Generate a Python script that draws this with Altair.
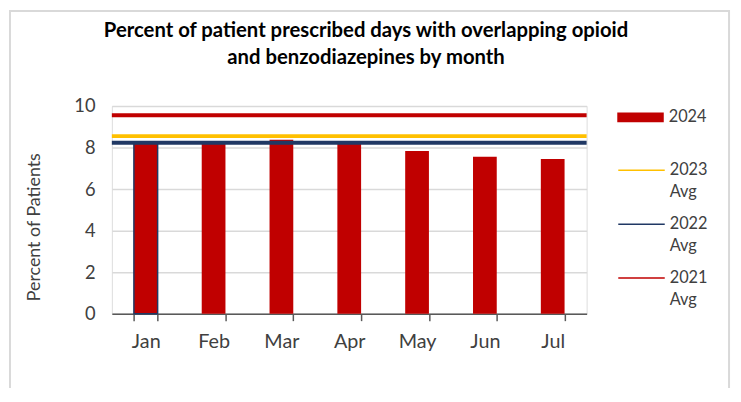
import altair as alt
import pandas as pd

# ---- data ----
months = ["Jan", "Feb", "Mar", "Apr", "May", "Jun", "Jul"]
values_2024 = [8.22, 8.2, 8.38, 8.2, 7.83, 7.56, 7.45]
bar_label = "2024"
bar_color = "#c00000"
avg_labels = ["2023 Avg", "2022 Avg", "2021 Avg"]
avg_values = [8.55, 8.23, 9.56]
avg_colors = ["#ffc000", "#203864", "#c00000"]
y_ticks = [0, 2, 4, 6, 8, 10]
title_lines = ["Percent of patient prescribed days with overlapping opioid",
               "and  benzodiazepines by month"]

bars_df = pd.DataFrame({"month": months, "pct": values_2024, "series": bar_label})
avg_df = pd.DataFrame({"series": avg_labels, "avg": avg_values})
frame_df = pd.DataFrame({"k": [0]})

FONT = "Lato"
TXT = "#404040"

x_enc = alt.X(
    "month:N", sort=months, title=None,
    scale=alt.Scale(paddingInner=0.65, paddingOuter=0.325),
    axis=alt.Axis(labelAngle=0, labelFontSize=20, labelColor=TXT, labelFont=FONT,
                  labelPadding=11, domainColor="#595959", domainWidth=1.5,
                  tickColor="#595959", tickWidth=1.5, tickSize=7,
                  tickBand="extent", grid=False),
)
y_axis = alt.Axis(values=y_ticks, grid=True, gridColor="#d9d9d9", gridWidth=1.5,
                  domain=False, ticks=False, labelFontSize=18.5, labelColor=TXT,
                  labelFont=FONT, labelPadding=17, titleFontSize=18,
                  titleFont=FONT, titleFontWeight="normal", titleColor=TXT,
                  titleX=-78, titleY=122, titleAlign="center",
                  titleBaseline="middle", titleAngle=270)

bars = alt.Chart(bars_df).mark_bar(strokeWidth=1.5).encode(
    x=x_enc,
    y=alt.Y("pct:Q", scale=alt.Scale(domain=[0, 10]), title="Percent of Patients",
            axis=y_axis),
    fill=alt.Fill("series:N", scale=alt.Scale(domain=[bar_label], range=[bar_color]),
                  legend=alt.Legend(title=None, orient="none", legendX=511, legendY=-12,
                                    symbolType="M-1,-0.213H1V0.213H-1Z",
                                    symbolSize=2209, symbolStrokeWidth=0,
                                    labelFontSize=16.5, labelFont=FONT, labelColor=TXT,
                                    labelOffset=5, padding=0)),
    stroke=alt.condition("datum.month == 'Jan'", alt.value("#203864"),
                         alt.value("transparent")),
)

rules = alt.Chart(avg_df).mark_rule(strokeWidth=4).encode(
    y=alt.Y("avg:Q", title="Percent of Patients"),
    stroke=alt.Stroke("series:N", sort=avg_labels,
                      scale=alt.Scale(domain=avg_labels, range=avg_colors),
                      legend=alt.Legend(title=None, orient="none", legendX=524.5,
                                        legendY=45.5, symbolType="M-2.35,0.85H2.35",
                                        symbolSize=400, symbolStrokeWidth=1.5,
                                        labelExpr="split(datum.label, ' ')",
                                        labelBaseline="top",
                                        labelFontSize=16.5, labelFont=FONT,
                                        labelColor=TXT, labelOffset=17.5,
                                        rowPadding=3.5, padding=0)),
)

frame = alt.Chart(frame_df).mark_rect(fillOpacity=0, stroke="#d9d9d9",
                                      strokeWidth=2).encode(
    x=alt.value(-103), x2=alt.value(624), y=alt.value(-96), y2=alt.value(400)
)

chart = alt.layer(frame, bars, rules).resolve_legend(fill="independent", stroke="independent").properties(
    width=480, height=210,
    autosize=alt.AutoSizeParams(type="none"),
    padding={"left": 105, "top": 97, "right": 148, "bottom": 73},
    title=alt.TitleParams(title_lines, fontSize=20.5, fontWeight="bold", font=FONT,
                          color="#000000", lineHeight=27, anchor="middle",
                          dx=17, offset=0, dy=59),
).configure_view(stroke=None).configure(
    background="white",
    style={"guide-label": {"lineHeight": 23}},
)

chart.save("out.html", embed_options={"renderer": "svg", "actions": False})
